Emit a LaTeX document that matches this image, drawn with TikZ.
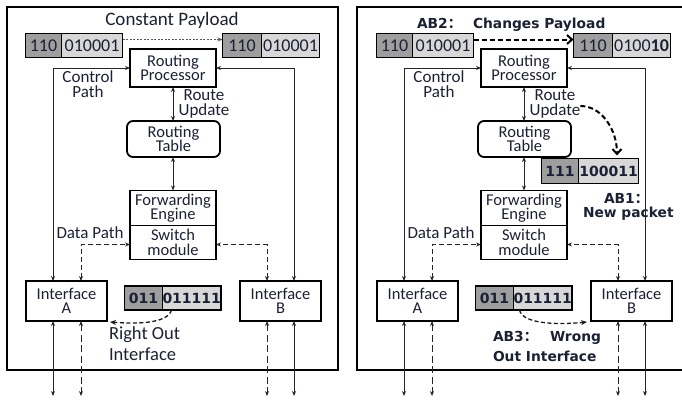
\documentclass[tikz,border=0pt]{standalone}
\usepackage{fontspec}
\setmainfont{Carlito}
\newfontfamily\dvs{DejaVu Sans}
\newfontfamily\cjk{Noto Sans CJK SC}
\usetikzlibrary{arrows.meta,calc}
\definecolor{txt}{RGB}{28,32,52}
\definecolor{dk}{RGB}{158,158,158}
\definecolor{lt}{RGB}{216,216,216}
\begin{document}
\begin{tikzpicture}[x=1pt,y=-1pt,
  >={Stealth[length=5pt,width=4pt]},
  every node/.style={text=txt,inner sep=0pt,outer sep=0pt},
  frame/.style={draw=black,line width=2pt},
  box/.style={draw=black,line width=1.8pt,fill=white,align=center,font=\fontsize{16.5}{14.5}\selectfont},
  pkd/.style={draw=black,line width=1.8pt,fill=dk,minimum height=24,font=\fontsize{18}{18}\selectfont},
  pkl/.style={pkd,fill=lt},
  pbd/.style={pkd,font=\dvs\bfseries\fontsize{14}{14}\selectfont},
  pbl/.style={pbd,fill=lt},
  lbl/.style={font=\fontsize{17}{14.5}\selectfont,align=center},
  bl/.style={font=\dvs\bfseries\fontsize{13.8}{14}\selectfont},
  conn/.style={draw=black!85,line width=0.9pt},
  dconn/.style={conn,dash pattern=on 5pt off 3pt},
  dconnb/.style={conn,dash pattern=on 7pt off 3.5pt},
  graydot/.style={draw=black!65,line width=1pt,dash pattern=on 2pt off 1.5pt,->},
  midarr/.style={draw=black!90,line width=1.3pt,dash pattern=on 4pt off 2.5pt,-{Stealth[length=6pt,width=5pt]}},
  bigdash/.style={draw=black,line width=2pt,dash pattern=on 5pt off 3pt,-{Straight Barb[length=5pt,width=9pt]}}
]
\useasboundingbox (0,0) rectangle (682,399);
\clip (0,0) rectangle (682,399);
\draw[frame] (7,7) rectangle (338,370);
\draw[frame] (357,7) rectangle (689,370);
\foreach \p/\dx in {L/0,R/351}{
 \begin{scope}[xshift=\dx]
  \node[box,minimum width=86,minimum height=38] (\p rp) at (173,68) {Routing\\Processor};
  \node[box,rounded corners=6,minimum width=93,minimum height=36] (\p rt) at (173.5,139) {Routing\\Table};
  \node[box,minimum width=86,minimum height=35] (\p fe) at (173,208) {Forwarding\\Engine};
  \node[box,minimum width=86,minimum height=34,anchor=north] (\p sm) at (\p fe.south) {Switch\\module};
  \node[box,minimum width=81,minimum height=40] (\p ifA) at (66.5,301) {Interface\\A};
  \node[box,minimum width=81,minimum height=40] (\p ifB) at (280.5,301) {Interface\\B};
  \node[pkd,minimum width=36] (\p a1) at (43.5,45.5) {110};
  \node[pkl,minimum width=61,anchor=west] (\p a2) at (\p a1.east) {010001};
  \node[pkd,minimum width=39] (\p b1) at (242,45.5) {110};
  \node[pbd,minimum width=38] (\p m1) at (143.5,298) {011};
  \node[pbl,minimum width=58,anchor=west] (\p m2) at (\p m1.east) {011111};
  \node[lbl] (\p cp) at (88,84) {Control\\Path};
  \node[lbl] (\p ru) at (204,104) {Route\\Update};
  \node[lbl] (\p dp) at (90,233) {Data Path};
  \coordinate (\p o1) at (53,396);
  \coordinate (\p o2) at (81,396);
  \coordinate (\p o3) at (267,396);
  \coordinate (\p o4) at (294,396);
  \draw[conn,<->] (\p o1 |- \p ifA.north) |- (\p rp.west);
  \draw[conn,<->] (\p o4 |- \p ifB.north) |- (\p rp.east);
  \draw[conn,<->] (\p rp.south) -- (\p rp.south |- \p rt.north);
  \draw[conn,<->] (\p fe.north |- \p rt.south) -- (\p fe.north);
  \draw[dconn,<->] (\p o2 |- \p ifA.north) |- ([yshift=-2]\p sm.west);
  \draw[dconn,<->] (\p o3 |- \p ifB.north) |- ([yshift=-2]\p sm.east);
  \draw[conn,<->] (\p o1 |- \p ifA.south) -- (\p o1);
  \draw[dconnb,<->] (\p o2 |- \p ifA.south) -- (\p o2);
  \draw[dconnb,<->] (\p o3 |- \p ifB.south) -- (\p o3);
  \draw[conn,<->] (\p o4 |- \p ifB.south) -- (\p o4);
 \end{scope}
}
% left panel
\node[lbl,font=\fontsize{19}{19}\selectfont] (Ltitle) at (172,20) {Constant Payload};
\node[pkl,minimum width=58,anchor=west] (Lb2) at (Lb1.east) {010001};
\draw[graydot] ([yshift=6]La2.east) -- ([yshift=6]Lb1.west);
\node[lbl,align=left,anchor=north west,font=\fontsize{18.5}{20.5}\selectfont] (Lro) at (109,327) {Right Out\\Interface};
\draw[midarr] ([xshift=9]Lm2.south west) .. controls +(-4,14) and +(25,2) .. ([xshift=3,yshift=-1]LifA.south east);
% right panel
\node[pkl,minimum width=58,anchor=west] (Rb2) at (Rb1.east) {0100\textbf{10}};
\draw[bigdash] ([yshift=6]Ra2.east) -- ([yshift=6]Rb1.west);
\node[bl,anchor=base west] (Rab2) at (417,28) {AB2{\cjk ：}};
\node[bl,anchor=base west] (Rchp) at (473,28) {Changes Payload};
\node[pbd,minimum width=37,minimum height=25] (Rn1) at (560,171) {111};
\node[pbl,minimum width=60,minimum height=25,anchor=west] (Rn2) at (Rn1.east) {100011};
\node[bl,anchor=base west] (Rab1) at (604,203) {AB1{\cjk ：}};
\node[bl,anchor=base west] (Rnp) at (583,217) {New packet};
\draw[bigdash] ([yshift=-2]Rru.east) .. controls +(22,0) and +(0,-25) .. ([xshift=8.5,yshift=3]Rn2.north);
\node[bl,anchor=base west] (Rab3) at (493,341) {AB3{\cjk ：}};
\node[bl,anchor=base west] (Rwr) at (550,341) {Wrong};
\node[bl,anchor=base west] (Roi) at (493,361) {Out Interface};
\draw[midarr] ([xshift=6]Rm2.south west) .. controls +(3,14) and +(-30,3) .. ([xshift=-4,yshift=-1]RifB.south west);
\end{tikzpicture}
\end{document}
